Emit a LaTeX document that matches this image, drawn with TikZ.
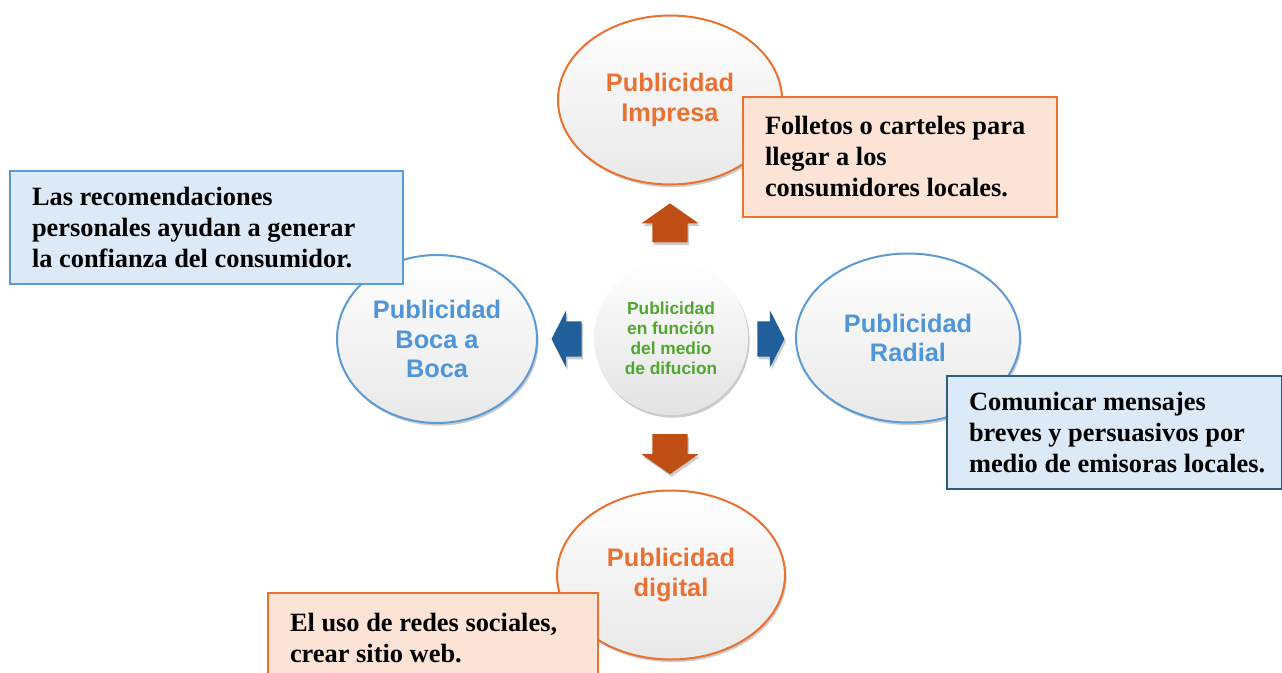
\documentclass[tikz,border=0pt]{standalone}
\usepackage{fontspec}
\setmainfont{Liberation Serif}
\setsansfont{Liberation Sans}
\usepackage{tikz}
\usetikzlibrary{shapes.geometric, shapes.arrows, shadows}

\definecolor{naranja}{HTML}{E97132}
\definecolor{naranjafondo}{HTML}{FBE3D6}
\definecolor{naranjaflecha}{HTML}{C04F15}
\definecolor{azul}{HTML}{4E95D9}
\definecolor{azulborde}{HTML}{5B9BD5}
\definecolor{azulfondo}{HTML}{DCEAF7}
\definecolor{azulflecha}{HTML}{215F9A}
\definecolor{azuloscuro}{HTML}{2B5F80}
\definecolor{verde}{HTML}{4EA72E}

\tikzset{
  sombra/.style={drop shadow={shadow xshift=1.2pt, shadow yshift=-2pt, opacity=.2, fill=black}},
  medio/.style={ellipse, draw, line width=1.5pt, top color=white, bottom color=gray!18, sombra,
    align=center, font=\sffamily\bfseries\fontsize{19}{22}\selectfont, inner sep=0pt},
  medionar/.style={medio, draw=naranja, text=naranja},
  medioazul/.style={medio, draw=azulborde, text=azul},
  centro/.style={circle, minimum size=115.5pt, top color=white, bottom color=gray!22, sombra,
    align=center, text=verde, font=\sffamily\bfseries\fontsize{13}{15}\selectfont},
  nota/.style={rectangle, line width=1.6pt, align=flush left, inner xsep=16.5pt,
    font=\bfseries\fontsize{19.8}{23.25}\selectfont},
  notanar/.style={nota, draw=naranja, fill=naranjafondo},
  notaazul/.style={nota, draw=azulborde, fill=azulfondo},
  flecha/.style={single arrow, inner xsep=0pt, inner ysep=13pt, minimum width=42.75pt,
    single arrow head extend=8.25pt, sombra},
}

\begin{document}
\begin{tikzpicture}[x=0.75pt, y=-0.75pt]
\clip (0,0) rectangle (1282,672);
\fill[white] (0,0) rectangle (1282,672);

% centro
\node[centro] (centro) at (671,338) {Publicidad\\en función\\del medio\\de difucion};

% medios
\node[medionar, minimum width=168pt, minimum height=126.75pt] (impresa) at (670,100) {Publicidad\\Impresa};
\node[medioazul, minimum width=150pt, minimum height=126pt] (boca) at (437,339) {Publicidad\\Boca a\\Boca};
\node[medioazul, minimum width=168pt, minimum height=126.75pt] (radial) at (908,338) {Publicidad\\Radial};
\node[medionar, minimum width=171pt, minimum height=126.75pt] (digital) at (671,575) {Publicidad\\digital};

% flechas
\node[flecha, fill=naranjaflecha, minimum height=29.25pt, single arrow tip angle=110,
  rotate=90] (arrUp) at (670,229) {};
\node[flecha, fill=naranjaflecha, minimum height=30pt, single arrow tip angle=110,
  rotate=-90] (arrDown) at (670,448) {};
\node[flecha, fill=azulflecha, minimum height=22.5pt, single arrow tip angle=126,
  rotate=180] (arrLeft) at (571,339) {};
\node[flecha, fill=azulflecha, minimum height=20.25pt, single arrow tip angle=126]
  (arrRight) at (766.5,339) {};

% notas
\node[notaazul, text width=261.75pt, minimum height=84.75pt] (notaBoca) at (206.5,227.5)
  {Las recomendaciones\\personales ayudan a generar\\la confianza del consumidor.};
\node[notanar, text width=202.5pt, minimum height=90pt] (notaImpresa) at (900,157)
  {Folletos o carteles para\\llegar a los\\consumidores locales.};
\node[nota, draw=azuloscuro, fill=azulfondo, text width=218.25pt, minimum height=84.75pt]
  (notaRadial) at (1114.5,432.5)
  {Comunicar mensajes\\breves y persuasivos por\\\mbox{medio de emisoras locales.}};
\node[notanar, text width=214.5pt, minimum height=67.5pt] (notaDigital) at (433,638)
  {El uso de redes sociales,\\crear sitio web.};
\end{tikzpicture}
\end{document}
